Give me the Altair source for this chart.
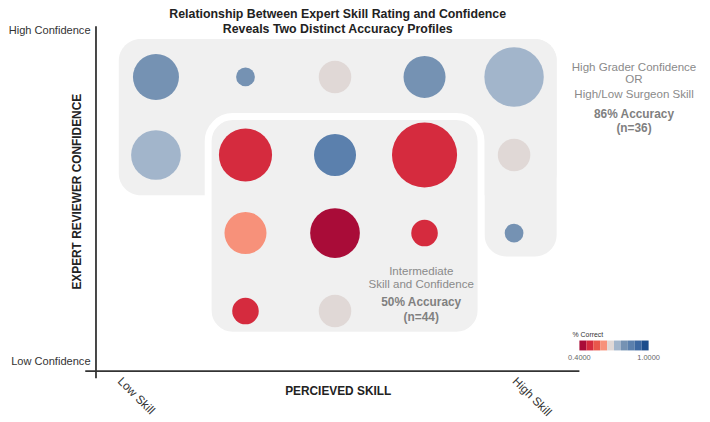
import altair as alt
import pandas as pd

# ---- bubble data ----
skill = [1, 2, 3, 4, 5, 1, 2, 3, 4, 5, 2, 3, 4, 5, 2, 3]
confidence = [4, 4, 4, 4, 4, 3, 3, 3, 3, 3, 2, 2, 2, 2, 1, 1]
count = [6, 1, 3, 5, 10, 7, 8, 5, 12, 3, 5, 7, 2, 1, 2, 3]
pct_correct = [0.79, 0.79, 0.67, 0.79, 0.73,
               0.73, 0.50, 0.85, 0.50, 0.67,
               0.60, 0.43, 0.50, 0.79,
               0.50, 0.67]

# stepped colour scale: thresholds 0.40 ... 1.00 (outer two steps left blank)
color_thresholds = [0.40, 0.46, 0.52, 0.58, 0.64, 0.70, 0.76, 0.82, 0.88, 0.94, 1.00]
palette = ["rgba(255,255,255,0)",
           "#a90c38", "#d52b3e", "#e9574b", "#f7917a", "#e0d8d6",
           "#a2b5cb", "#7592b3", "#5b80ad", "#3c68a1", "#1c4d8c",
           "rgba(255,255,255,0)"]

# ---- grouping regions (data units) ----
group1_x = [0.585, 4.67]
group1_x2 = [5.476, 5.476]
group1_y = [4.486, 4.486]
group1_y2 = [2.485, 1.699]

group2_x, group2_x2, group2_y, group2_y2 = [1.583], [4.631], [3.492], [0.692]

# ---- annotation text ----
ann1_lines = ["High Grader Confidence", "OR", "High/Low Surgeon Skill"]
ann1_x, ann1_y = [6.34, 6.34, 6.34], [4.131, 3.967, 3.777]
ann1_bold = ["86% Accuracy", "(n=36)"]
ann1_bx, ann1_by = [6.34, 6.34], [3.523, 3.346]
ann2_lines = ["Intermediate", "Skill and Confidence"]
ann2_x, ann2_y = [3.963, 3.963], [1.509, 1.345]
ann2_bold = ["50% Accuracy", "(n=44)"]
ann2_bx, ann2_by = [3.963, 3.963], [1.117, 0.927]

XDOM = [0.33, 5.73]
YDOM = [0.23, 4.6]
FONT = "Liberation Sans"

xs = alt.Scale(domain=XDOM, nice=False, zero=False)
ys = alt.Scale(domain=YDOM, nice=False, zero=False)

bubbles = pd.DataFrame({"skill": skill, "conf": confidence, "n": count, "pct": pct_correct})
g1 = pd.DataFrame({"x": group1_x, "x2": group1_x2, "y": group1_y, "y2": group1_y2})
g2 = pd.DataFrame({"x": group2_x, "x2": group2_x2, "y": group2_y, "y2": group2_y2})
t_reg = pd.DataFrame({"x": ann1_x + ann2_x, "y": ann1_y + ann2_y, "t": ann1_lines + ann2_lines})
t_bold = pd.DataFrame({"x": ann1_bx + ann2_bx, "y": ann1_by + ann2_by, "t": ann1_bold + ann2_bold})
hax = pd.DataFrame({"x": [0.21], "x2": [5.73], "y": [0.23]})
vax = pd.DataFrame({"x": [0.33], "y": [0.14], "y2": [4.65]})

x_axis = alt.Axis(values=[0.63, 5.04], labelExpr="datum.value < 3 ? 'Low Skill' : 'High Skill'",
                  labelAngle=45, labelAlign="left", labelBaseline="top", labelPadding=4,
                  ticks=False, domain=False, grid=False, labelFont=FONT, labelFontSize=12,
                  labelColor="#333333", title="PERCIEVED SKILL", titleFont=FONT, titleFontSize=12,
                  titleFontWeight="bold", titleColor="#222222", titleY=20, titleBaseline="middle",
                  labelOverlap=False)
y_axis = alt.Axis(values=[0.357, 4.6], labelExpr="datum.value > 2 ? 'High Confidence' : 'Low Confidence'",
                  labelPadding=6, ticks=False, domain=False, grid=False, labelFont=FONT,
                  labelFontSize=11.2, labelColor="#333333", title="EXPERT REVIEWER CONFIDENCE",
                  titleFont=FONT, titleFontSize=12, titleFontWeight="bold", titleColor="#222222",
                  titleX=-20, titleY=163, titleBaseline="middle", labelOverlap=False)

bg1 = alt.Chart(g1).mark_rect(color="#f0f0f0", cornerRadius=22).encode(
    x=alt.X("x:Q", scale=xs, axis=x_axis), x2="x2", y=alt.Y("y:Q", scale=ys, axis=y_axis), y2="y2")
bg2 = alt.Chart(g2).mark_rect(fill="#f0f0f0", stroke="white", strokeWidth=7, cornerRadius=25).encode(
    x=alt.X("x:Q", scale=xs), x2="x2", y=alt.Y("y:Q", scale=ys), y2="y2")

circles = alt.Chart(bubbles).mark_circle(opacity=1).encode(
    x=alt.X("skill:Q", scale=xs),
    y=alt.Y("conf:Q", scale=ys),
    size=alt.Size("n:Q", scale=alt.Scale(domain=[0, 12], range=[0, 4336], zero=True), legend=None),
    color=alt.Color("pct:Q", scale=alt.Scale(type="threshold", domain=color_thresholds, range=palette),
                    legend=alt.Legend(type="gradient", orient="none", legendX=482, legendY=304,
                                      direction="horizontal",
                                      title="% Correct", titleFont=FONT, titleFontSize=7,
                                      titleFontWeight="normal", titleColor="#333333", titlePadding=3,
                                      labelFont=FONT, labelFontSize=7.5, labelColor="#666666",
                                      labelOffset=4,
                                      gradientLength=84, gradientThickness=10, labelOverlap=False,
                                      gradientStrokeWidth=0,
                                      labelExpr="abs(datum.value-0.4)<0.001 ? '0.4000' : (abs(datum.value-1)<0.001 ? '1.0000' : '')")),
)

txt_reg = alt.Chart(t_reg).mark_text(font=FONT, fontSize=11.7, color="#8a8a8a", baseline="middle").encode(
    x=alt.X("x:Q", scale=xs), y=alt.Y("y:Q", scale=ys), text="t:N")
txt_bold = alt.Chart(t_bold).mark_text(font=FONT, fontSize=12, fontWeight="bold", color="#808080",
                                       baseline="middle").encode(
    x=alt.X("x:Q", scale=xs), y=alt.Y("y:Q", scale=ys), text="t:N")

hline = alt.Chart(hax).mark_rule(color="#333333", strokeWidth=1.8).encode(
    x=alt.X("x:Q", scale=xs), x2="x2", y=alt.Y("y:Q", scale=ys))
vline = alt.Chart(vax).mark_rule(color="#333333", strokeWidth=1.8).encode(
    x=alt.X("x:Q", scale=xs), y=alt.Y("y:Q", scale=ys), y2="y2")

chart = alt.layer(bg1, bg2, circles, txt_reg, txt_bold, hline, vline).properties(
    width=489, height=345,
    title=alt.TitleParams(["Relationship Between Expert Skill Rating and Confidence",
                           "Reveals Two Distinct Accuracy Profiles"],
                          font=FONT, fontSize=12.5, fontWeight="bold", color="#222222",
                          anchor="middle", lineHeight=15, offset=0, dy=11),
    autosize=alt.AutoSizeParams(type="none"),
    padding={"left": 89, "top": 20, "right": 124, "bottom": 45},
).configure_view(stroke=None).configure_legend(
    gradientLength=84, gradientHorizontalMaxLength=84, gradientHorizontalMinLength=84)

chart.save("out.html", embed_options={"renderer": "svg", "actions": False})
